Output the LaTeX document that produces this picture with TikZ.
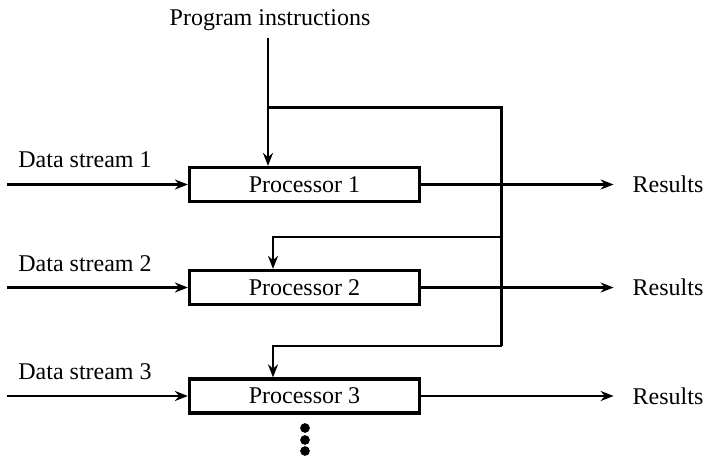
\documentclass[tikz,border=0pt]{standalone}
\usepackage{fontspec}
\setmainfont{Liberation Serif}
\usetikzlibrary{arrows.meta}

\tikzset{
  procbox/.style={draw, line width=1.6pt, minimum width=115pt, minimum height=17pt, inner sep=0pt},
  wire/.style={line width=1.1pt},
  flow/.style={wire, -{Stealth[length=6.5pt,width=5pt]}},
}

\begin{document}
\begin{tikzpicture}[x=0.5pt, y=-0.5pt, font=\fontsize{12}{14}\selectfont]
  \useasboundingbox (0,0) rectangle (705,455);

  \node[procbox] (p1) at (304.5,184.5) {Processor 1};
  \node[procbox] (p2) at (304.5,287.5) {Processor 2};
  \node[procbox] (p3) at (304.5,396) {Processor 3};

  \node (prog) at (270,20) {Program instructions};

  \node (ds1) at (85,160) {Data stream 1};
  \node (ds2) at (85,264) {Data stream 2};
  \node (ds3) at (85,372) {Data stream 3};
  \coordinate (in1) at (7,184.5);
  \coordinate (in2) at (7,287.5);
  \coordinate (in3) at (7,396);

  \node (r1) at (668,184.5) {Results};
  \node (r2) at (668,287.5) {Results};
  \node (r3) at (668,396) {Results};

  \coordinate (bus) at (268,107.5);
  \coordinate (j2) at (501.5,237);
  \coordinate (j3) at (501.5,346);
  \coordinate (a) at (273,0);

  \draw [flow] (bus |- prog.south) -- (bus |- p1.north);
  \draw [wire] (bus) -| (j3);
  \draw [flow] (j2) -| (a |- p2.north);
  \draw [flow] (j3) -| (a |- p3.north);

  \draw [flow] (in1) -- (p1);
  \draw [flow] (in2) -- (p2);
  \draw [flow] (in3) -- (p3);

  \draw [flow, shorten >=6pt] (p1) -- (r1);
  \draw [flow, shorten >=6pt] (p2) -- (r2);
  \draw [flow, shorten >=6pt] (p3) -- (r3);

  \foreach \y in {428,440,451}
    \filldraw [black] (305,\y) circle (2.2pt);
\end{tikzpicture}
\end{document}
